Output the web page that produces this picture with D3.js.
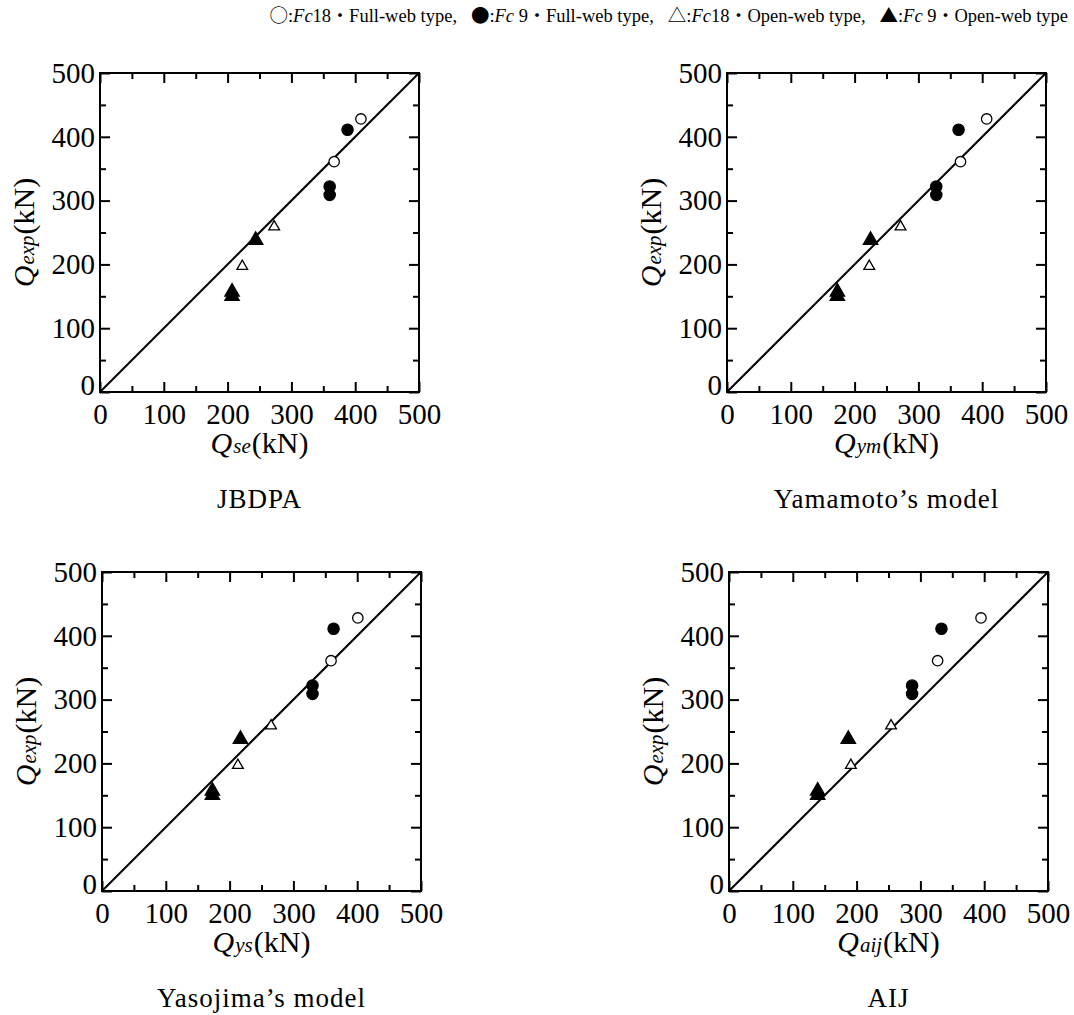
<!DOCTYPE html>
<html>
<head>
<meta charset="utf-8">
<script src="https://cdn.jsdelivr.net/npm/d3@7"></script>
<style>
  body { margin: 0; background: #fff; }
</style>
</head>
<body>
<svg id="chart" width="1074" height="1015"></svg>
<script>
// specimen groups (same order in every array below)
const specimenType = ['fc18Full', 'fc18Full', 'fc9Full', 'fc9Full', 'fc9Full',
  'fc18Open', 'fc18Open', 'fc9Open', 'fc9Open', 'fc9Open'];

// experimental shear strength Qexp (kN)
const qExp = [428, 361, 411, 322, 309, 259, 197, 238, 157, 150];

// calculated strengths (kN)
const qSe = [409, 367, 388, 360, 360, 273, 223, 244, 207, 207];
const qYm = [407, 366, 363, 328, 328, 272, 223, 225, 173, 173];
const qYs = [401, 359, 363, 330, 330, 265, 213, 217, 173, 173];
const qAij = [395, 327, 333, 287, 287, 254, 191, 187, 139, 139];

const majorTicks = [0, 100, 200, 300, 400, 500];
const minorTicks = [50, 150, 250, 350, 450];

const panelTitles = ['JBDPA', 'Yamamoto\u2019s model', 'Yasojima\u2019s model', 'AIJ'];
const panelSubs = ['se', 'ym', 'ys', 'aij'];
const panelCalc = [qSe, qYm, qYs, qAij];

const SERIF = '"Liberation Serif", "Times New Roman", serif';
const CJK = '"Noto Sans CJK JP", "Liberation Serif", serif';

const cfg = {
  size: 319,
  origins: [[100, 73], [727, 73], [102, 572], [729, 572]],
  tickFont: 29,
  labelFont: 30,
  subFont: 21,
  titleFont: 27,
};

const markers = {
  fc18Full: { type: d3.symbolCircle, size: 85, fill: '#fff' },
  fc9Full: { type: d3.symbolCircle, size: 100, fill: '#000' },
  fc18Open: { type: d3.symbolTriangle, size: 50, fill: '#fff' },
  fc9Open: { type: d3.symbolTriangle, size: 90, fill: '#000' },
};

const svg = d3.select('#chart');

function styleAxis(g) {
  g.select('.domain').remove();
  g.selectAll('line').attr('stroke', '#000').attr('stroke-width', 2);
  g.attr('font-size', cfg.tickFont).attr('font-family', null);
}

panelTitles.forEach((title, i) => {
  const [left, top] = cfg.origins[i];
  const x = d3.scaleLinear().domain([0, 500]).range([0, cfg.size]);
  const y = d3.scaleLinear().domain([0, 500]).range([cfg.size, 0]);
  const g = svg.append('g').attr('transform', `translate(${left},${top})`);

  // ticks, all pointing inward
  g.append('g').attr('transform', `translate(0,${cfg.size})`)
    .call(d3.axisBottom(x).tickValues(majorTicks).tickSize(-10).tickPadding(11).tickFormat(d3.format('d')))
    .call(styleAxis);
  g.append('g').attr('transform', `translate(0,${cfg.size})`)
    .call(d3.axisBottom(x).tickValues(minorTicks).tickSize(-6).tickFormat(''))
    .call(styleAxis);
  g.append('g').attr('class', 'yaxis')
    .call(d3.axisLeft(y).tickValues(majorTicks).tickSize(-10).tickPadding(5).tickFormat(d3.format('d')))
    .call(styleAxis);
  g.append('g')
    .call(d3.axisLeft(y).tickValues(minorTicks).tickSize(-6).tickFormat(''))
    .call(styleAxis);
  g.append('g')
    .call(d3.axisTop(x).tickValues(majorTicks).tickSize(-10).tickFormat(''))
    .call(styleAxis);
  g.append('g')
    .call(d3.axisTop(x).tickValues(minorTicks).tickSize(-6).tickFormat(''))
    .call(styleAxis);
  g.append('g').attr('transform', `translate(${cfg.size},0)`)
    .call(d3.axisRight(y).tickValues(majorTicks).tickSize(-10).tickFormat(''))
    .call(styleAxis);
  g.append('g').attr('transform', `translate(${cfg.size},0)`)
    .call(d3.axisRight(y).tickValues(minorTicks).tickSize(-6).tickFormat(''))
    .call(styleAxis);

  // y tick label "0" sits a little above the corner
  g.select('.yaxis').selectAll('text').filter(d => d === 0).attr('dy', '0.1em');

  g.append('rect')
    .attr('width', cfg.size).attr('height', cfg.size)
    .attr('fill', 'none').attr('stroke', '#000').attr('stroke-width', 2);

  // 1:1 line
  g.append('line')
    .attr('x1', x(0)).attr('y1', y(0)).attr('x2', x(500)).attr('y2', y(500))
    .attr('stroke', '#000').attr('stroke-width', 2);

  const calc = panelCalc[i];
  g.selectAll('path.pt')
    .data(qExp.map((v, k) => ({ exp: v, calc: calc[k], type: specimenType[k] })))
    .enter().append('path')
    .attr('class', 'pt')
    .attr('transform', d => `translate(${x(d.calc)},${y(d.exp)})`)
    .attr('d', d => d3.symbol().type(markers[d.type].type).size(markers[d.type].size)())
    .attr('fill', d => markers[d.type].fill)
    .attr('stroke', '#000')
    .attr('stroke-width', 1.3);

  // x label
  const xl = g.append('text')
    .attr('x', cfg.size / 2).attr('y', cfg.size + 61)
    .attr('text-anchor', 'middle')
    .attr('font-size', cfg.labelFont);
  xl.append('tspan').attr('font-style', 'italic').text('Q');
  xl.append('tspan').attr('font-style', 'italic').attr('font-size', cfg.subFont).attr('dx', 1).text(panelSubs[i]);
  xl.append('tspan').attr('dx', 1).text('(kN)');

  // y label
  const yl = g.append('text')
    .attr('transform', `translate(-66,${cfg.size / 2}) rotate(-90)`)
    .attr('text-anchor', 'middle')
    .attr('font-size', cfg.labelFont);
  yl.append('tspan').attr('font-style', 'italic').text('Q');
  yl.append('tspan').attr('font-style', 'italic').attr('font-size', cfg.subFont).attr('dx', 1).text('exp');
  yl.append('tspan').attr('dx', 1).text('(kN)');

  g.append('text')
    .attr('x', cfg.size / 2).attr('y', cfg.size + 116)
    .attr('text-anchor', 'middle')
    .attr('font-size', cfg.titleFont)
    .attr('letter-spacing', 1)
    .text(title);
});

// legend line
const legendItems = [
  { sym: '\u25CB', fc: '18', name: 'Full-web type' },
  { sym: '\u25CF', fc: ' 9', name: 'Full-web type' },
  { sym: '\u25B3', fc: '18', name: 'Open-web type' },
  { sym: '\u25B2', fc: ' 9', name: 'Open-web type' },
];
const legend = svg.append('text')
  .attr('x', 1068).attr('y', 22)
  .attr('text-anchor', 'end')
  .attr('font-size', 18.5)
  .style('white-space', 'pre');
legendItems.forEach((d, i) => {
  legend.append('tspan').attr('class', 'cjk').text(d.sym);
  legend.append('tspan').text(':');
  legend.append('tspan').attr('font-style', 'italic').text('Fc');
  legend.append('tspan').text(d.fc);
  legend.append('tspan').attr('class', 'cjk').attr('font-size', 18).text('\u30FB');
  legend.append('tspan').text(d.name + (i < legendItems.length - 1 ? ',   ' : ''));
});

svg.selectAll('text').style('font-family', SERIF).style('fill', '#000');
svg.selectAll('tspan.cjk').style('font-family', CJK);
</script>
</body>
</html>
